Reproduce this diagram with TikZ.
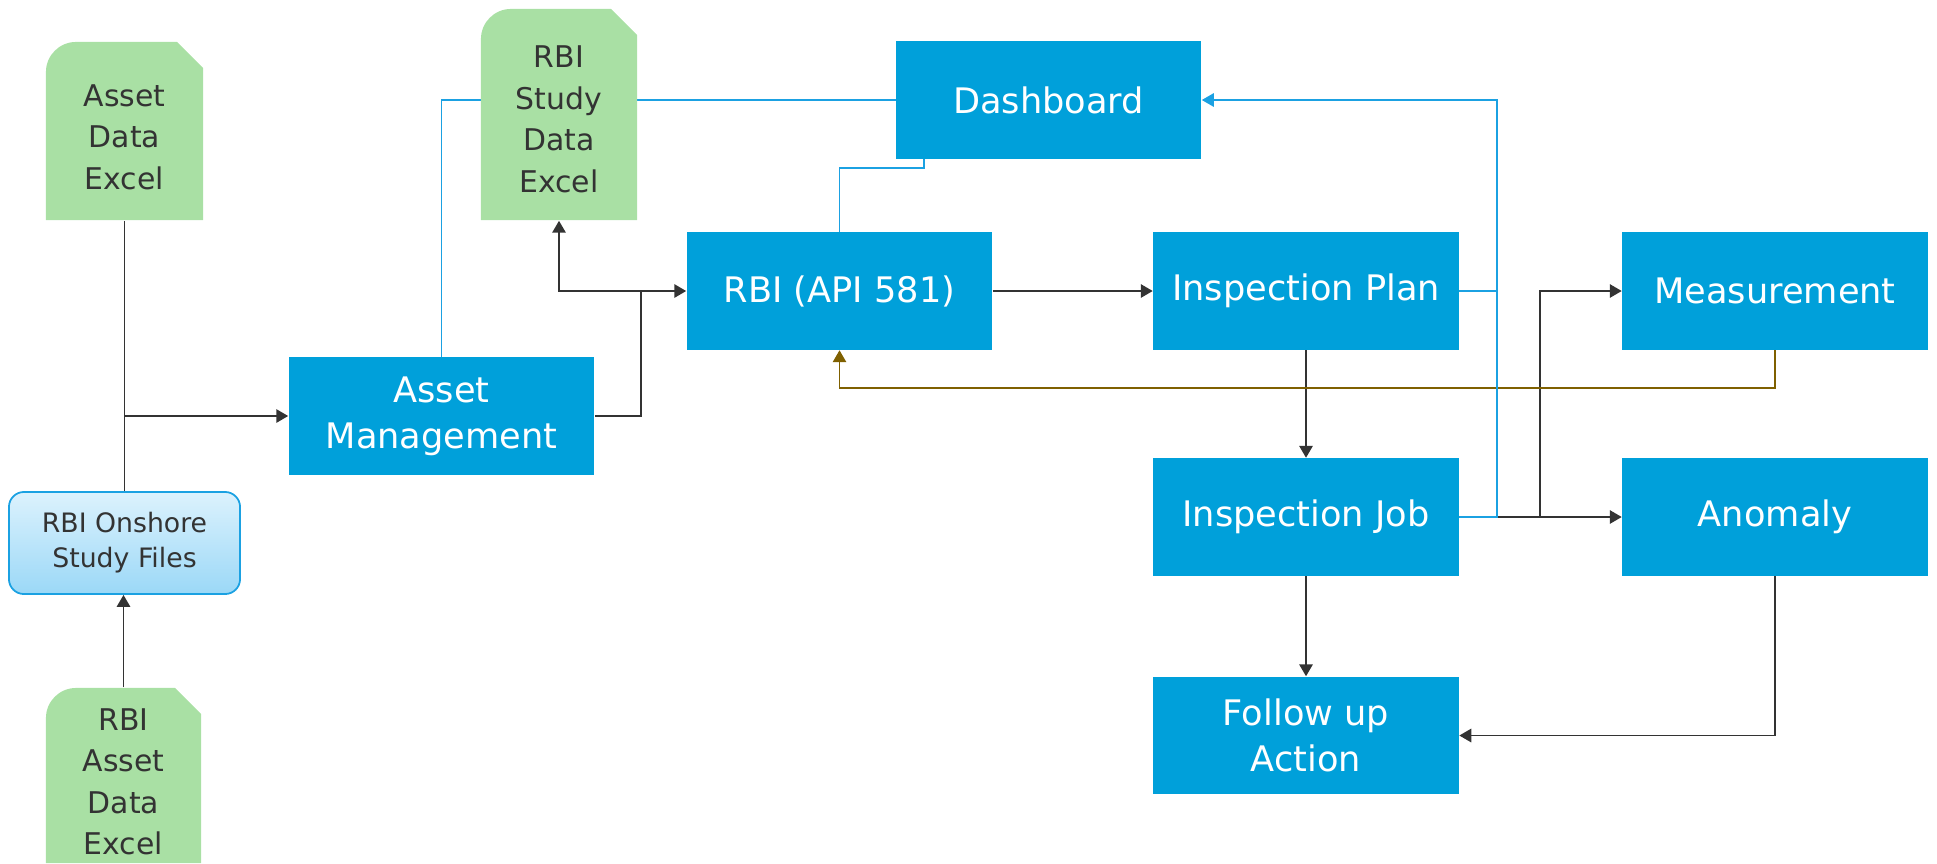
\documentclass[tikz,border=0pt]{standalone}
\usepackage{fontspec}
\setmainfont{DejaVu Sans}
\usetikzlibrary{arrows.meta}
\definecolor{boxblue}{RGB}{0,160,218}
\definecolor{docgreen}{RGB}{169,224,164}
\definecolor{inkgray}{RGB}{51,51,51}
\definecolor{linkblue}{RGB}{27,161,226}
\definecolor{olivebrown}{RGB}{127,96,0}
\definecolor{filetop}{RGB}{220,242,253}
\definecolor{filebot}{RGB}{155,216,247}
\begin{document}
\begin{tikzpicture}[x=0.01cm,y=-0.01cm,
  procbox/.style={fill=boxblue, text=white, minimum width=3.05cm, minimum height=1.17cm,
    inner sep=0pt, align=center, font=\fontsize{10pt}{13pt}\selectfont},
  docbox/.style={inner sep=0pt, path picture={
    \fill[docgreen] (path picture bounding box.south west)
      -- ([yshift=-0.3cm]path picture bounding box.north west)
      arc[start angle=180, end angle=90, radius=0.3cm]
      -- ([xshift=-0.26cm]path picture bounding box.north east)
      -- ([yshift=-0.26cm]path picture bounding box.north east)
      -- (path picture bounding box.south east) -- cycle;}},
  doctext/.style={inner sep=0pt, text=inkgray, align=center,
    font=\fontsize{8.5pt}{11.8pt}\selectfont},
  filebox/.style={rounded corners=0.15cm, draw=linkblue, line width=0.5pt,
    top color=filetop, bottom color=filebot, text=inkgray,
    minimum width=2.31cm, minimum height=1.02cm, inner sep=0pt, align=center,
    font=\fontsize{7.6pt}{9.9pt}\selectfont},
  tip/.tip={Triangle[length=3.4pt,width=3.8pt]},
  arrowline/.style={draw=inkgray, line width=0.55pt, -tip},
  plainline/.style={draw=inkgray, line width=0.55pt},
  feedline/.style={draw=linkblue, line width=0.45pt},
  backline/.style={draw=olivebrown, line width=0.5pt, -tip}
]
\useasboundingbox (0,0) rectangle (1937,863);

% connector behind the study document: Asset Management -> Dashboard
\draw[feedline] (441.5,358) |- (896,100);

% document shapes
\node[docbox, minimum width=1.57cm, minimum height=1.78cm] (ade) at (124.5,131) {};
\node[docbox, minimum width=1.56cm, minimum height=2.11cm] (study) at (559,114.5) {};
\node[docbox, minimum width=1.55cm, minimum height=1.75cm] (rade) at (123.5,775.5) {};
\node[doctext] (adetxt) at ([yshift=-0.06cm]ade.center) {Asset\\Data\\Excel};
\node[doctext] (studytxt) at ([yshift=-0.05cm]study.center) {RBI\\Study\\Data\\Excel};
\node[doctext] (radetxt) at ([yshift=-0.065cm]rade.center) {RBI\\Asset\\Data\\Excel};

% onshore files
\node[filebox] (onshore) at (124.5,543) {RBI Onshore\\Study Files};

% process boxes
\node[procbox] (dash)   at (1048.5,100) {Dashboard};
\node[procbox] (rbi)    at (839.5,291)  {RBI (API 581)};
\node[procbox] (plan)   at (1306,291)   {Inspection Plan};
\node[procbox] (meas)   at (1775,291)   {Measurement};
\node[procbox] (am)     at (441.5,416)  {Asset\\Management};
\node[procbox] (job)    at (1306,517)   {Inspection Job};
\node[procbox] (anom)   at (1775,517)   {Anomaly};
\node[procbox] (follow) at (1306,735.5) {Follow up\\Action};

% junction points
\coordinate (amj) at (641,291);
\coordinate (bus) at (1497,0);
\coordinate (split) at (1540,517);

% left column
\draw[plainline] (ade.south) -- (onshore.north);
\draw[arrowline] (ade.south |- am.west) -- (am.west);
\draw[arrowline] (rade.north) -- (rade.north |- onshore.south);

% asset management to RBI and study data
\draw[arrowline] (am.east) -| (amj) -- (rbi.west);
\draw[arrowline] (amj) -| (study.south);

% main flow
\draw[arrowline] (rbi.east) -- (plan.west);
\draw[arrowline] (plan.south) -- (job.north);
\draw[arrowline] (job.south) -- (follow.north);
\draw[arrowline] (job.east) -- (anom.west);
\draw[arrowline] (split) |- (meas.west);
\draw[arrowline] (anom.south) |- (follow.east);
\draw[backline] (meas.south) -- ++(0,38) -| (rbi.south);

% dashboard feeds
\draw[feedline] (study.east |- dash.west) -- (dash.west);
\draw[feedline] ([xshift=0.29cm]dash.south west) -- ++(0,9) -| (rbi.north);
\draw[feedline] (plan.east) -- (bus |- plan.east);
\draw[feedline, -tip] (job.east) -| (bus |- dash.east) -- (dash.east);
\end{tikzpicture}
\end{document}
